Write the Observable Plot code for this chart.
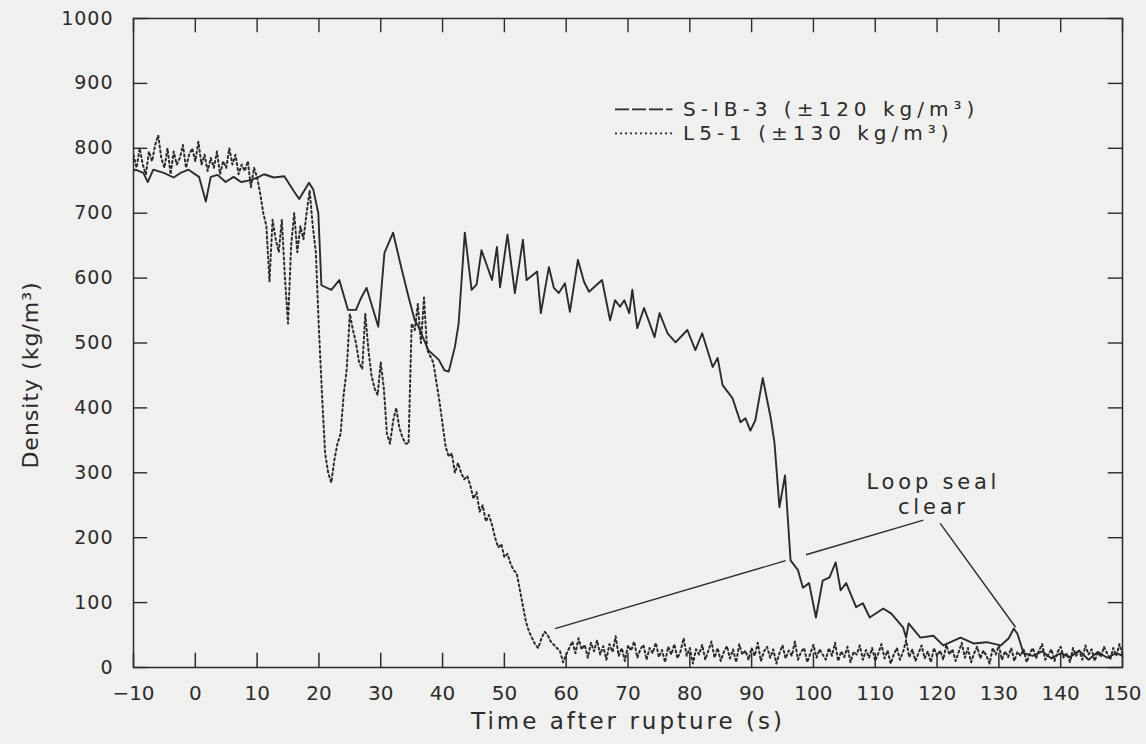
<!DOCTYPE html>
<html>
<head>
<meta charset="utf-8">
<script src="https://cdn.jsdelivr.net/npm/d3@7"></script>
<script src="https://cdn.jsdelivr.net/npm/@observablehq/plot@0.6"></script>
<style>
  html, body { margin: 0; padding: 0; background: #f0f0ee; }
  #chart { width: 1146px; height: 744px; }
</style>
</head>
<body>
<div id="chart"></div>
<script>
// ---------------- data ----------------
const xTickValues = [-10, 0, 10, 20, 30, 40, 50, 60, 70, 80, 90, 100, 110, 120, 130, 140, 150];
const yTickValues = [0, 100, 200, 300, 400, 500, 600, 700, 800, 900, 1000];

const xLabel = "Time after rupture (s)";
const yLabel = "Density (kg/m³)";
const seriesNames = ["S-IB-3 (±120 kg/m³)", "L5-1 (±130 kg/m³)"];
const annotationText = ["Loop seal", "clear"];

// S-IB-3: [time (s), density (kg/m3)]
const sib3 = [
  [-10, 765], [-9.7, 767], [-8.4, 762], [-7.7, 748], [-6.8, 767], [-5.1, 762], [-3.5, 755], [-2.4, 762],
  [-1.1, 767], [0.6, 756], [1.7, 718], [2.5, 756], [3.6, 759], [4.9, 748], [6.2, 756], [7.4, 748],
  [9, 751], [10.3, 756], [11.1, 760], [12.7, 755], [14.4, 757], [16, 733], [16.8, 722], [18.4, 747],
  [19.1, 736], [19.9, 700], [20.4, 589], [22, 582], [23.3, 597], [24.7, 551], [26, 551], [26.8, 569],
  [27.7, 585], [29.6, 525], [30.6, 639], [32, 670], [33.3, 617], [34.5, 571], [35.5, 535], [36.1, 525],
  [37.7, 489], [39.4, 474], [40.3, 458], [41, 456], [42, 494], [42.6, 530], [43.6, 670], [44.7, 582],
  [45.5, 590], [46.3, 643], [48, 597], [48.8, 648], [49.3, 586], [50.5, 667], [51.7, 577], [53, 659],
  [53.6, 597], [55.3, 610], [55.9, 546], [57.2, 617], [58, 585], [58.8, 577], [59.8, 592], [60.6, 548],
  [61.9, 628], [62.9, 594], [63.7, 579], [65.8, 597], [67.1, 535], [67.9, 566], [68.7, 556], [69.4, 566],
  [70.2, 546], [70.7, 582], [71.5, 523], [72.6, 554], [74.3, 509], [75.1, 546], [76.4, 515], [77.7, 501],
  [79.6, 520], [80.9, 489], [82, 515], [83.7, 463], [84.5, 477], [85.3, 435], [86.9, 415], [88.2, 378],
  [89, 384], [89.8, 365], [90.6, 381], [91.8, 446], [93.1, 384], [93.7, 346], [94.5, 247], [95.4, 296],
  [96.3, 165], [97.5, 150], [98.3, 123], [99.3, 130], [100.4, 77], [101.5, 134], [102.6, 139], [103.6, 162],
  [104.4, 119], [105.3, 130], [106.9, 93], [108, 99], [109.1, 77], [111.3, 91], [112.6, 83], [114.5, 62],
  [115, 46], [115.4, 68], [117.3, 46], [119.4, 49], [121, 34], [123.8, 46], [125.9, 37], [128, 39],
  [130.3, 34], [131.6, 45], [132.4, 60], [133, 52], [134, 22], [135.5, 18], [137, 25], [138.5, 14],
  [140, 22], [141.5, 16], [143, 26], [144.5, 12], [146, 24], [147.5, 15], [149, 22], [150, 18]
];

// L5-1: sampled every 0.5 s from -10 s (each row = 5 s)
const l5Start = -10;
const l5Step = 0.5;
const l5Density = [
  790, 770, 800, 775, 760, 795, 780, 805, 820, 785,   // -10
  770, 800, 760, 795, 775, 785, 805, 770, 790, 800,   // -5
  780, 810, 775, 790, 765, 785, 770, 795, 760, 780,   // 0
  770, 800, 775, 790, 760, 775, 765, 780, 740, 770,   // 5
  755, 730, 700, 680, 595, 690, 660, 640, 690, 600,   // 10
  530, 650, 700, 640, 680, 660, 700, 735, 680, 640,   // 15
  520, 420, 330, 300, 285, 320, 345, 360, 420, 460,   // 20
  545, 520, 500, 470, 460, 545, 490, 450, 430, 420,   // 25
  470, 430, 360, 345, 380, 400, 370, 355, 345, 345,   // 30
  530, 520, 560, 500, 570, 490, 480, 470, 440, 410,   // 35
  375, 340, 325, 330, 300, 315, 300, 290, 295, 280,   // 40
  260, 270, 240, 250, 225, 235, 220, 200, 185, 190,   // 45
  170, 175, 160, 150, 145, 120, 95, 70, 55, 45,       // 50
  35, 30, 45, 55, 50, 40, 35, 30, 25, 8,              // 55
  20, 30, 40, 22, 45, 28, 35, 15, 38, 25,             // 60
  42, 20, 33, 12, 36, 24, 48, 18, 30, 10,             // 65
  34, 26, 40, 15, 28, 35, 12, 30, 22, 38,             // 70
  16, 27, 8, 32, 20, 36, 14, 25, 45, 18,              // 75
  30, 6, 28, 20, 35, 12, 26, 40, 15, 30,              // 80
  10, 24, 33, 14, 28, 8, 36, 20, 26, 12,              // 85
  30, 18, 38, 10, 25, 32, 15, 28, 6, 22,              // 90
  34, 14, 26, 18, 40, 12, 24, 30, 8, 22,              // 95
  35, 15, 28, 20, 12, 30, 18, 38, 10, 25,             // 100
  16, 32, 8, 24, 20, 34, 12, 27, 15, 30,              // 105
  10, 22, 36, 14, 26, 6, 20, 30, 12, 24,              // 110
  42, 16, 28, 10, 22, 34, 14, 25, 8, 30,              // 115
  18, 26, 12, 35, 20, 28, 10, 24, 38, 15,             // 120
  30, 8, 22, 32, 14, 26, 18, 6, 30, 20,               // 125
  34, 12, 25, 16, 30, 10, 24, 18, 28, 8,              // 130
  22, 30, 14, 26, 36, 12, 20, 28, 10, 24,             // 135
  32, 15, 22, 8, 30, 18, 26, 12, 34, 20,              // 140
  28, 10, 24, 16, 32, 22, 12, 30, 18, 36,             // 145
  20                                                  // 150
];

// Annotation leader lines (time, density) for "Loop seal clear"
const leaderSegments = [
  [58.2, 60, 95.5, 164.6],
  [98.8, 173.8, 117.8, 227],
  [120.5, 222, 132.7, 62]
];
const annotationAnchor = [119.4, 285, 247]; // x, y of line 1, y of line 2

// ---------------- build ----------------
const ink = "#2b2b2b";
const font = "'DejaVu Sans', 'Liberation Sans', sans-serif";

const sibRows = sib3.map(([t, v]) => ({t, v}));
const l5Rows = l5Density.map((v, i) => ({t: l5Start + i * l5Step, v}));
const leaderRows = leaderSegments.map(([x1, y1, x2, y2]) => ({x1, y1, x2, y2}));

// legend placement in data space
const legendX1 = 67.9, legendX2 = 77.2, legendTextX = 78.9;
const legendY = [860, 823];

// inward tick lengths in data units (~14 px)
const tickX = 2.3, tickY = 22;

const chart = Plot.plot({
  width: 1146,
  height: 744,
  marginLeft: 133,
  marginRight: 24,
  marginTop: 18,
  marginBottom: 77,
  x: {domain: [-10, 150]},
  y: {domain: [0, 1000]},
  style: {background: "transparent", color: ink, fontFamily: font, overflow: "visible"},
  marks: [
    Plot.frame({stroke: ink, strokeWidth: 1.5}),
    // inward ticks on all four sides
    Plot.ruleX(xTickValues, {x: d => d, y1: 0, y2: tickY, stroke: ink, strokeWidth: 1.5}),
    Plot.ruleX(xTickValues, {x: d => d, y1: 1000 - tickY, y2: 1000, stroke: ink, strokeWidth: 1.4}),
    Plot.ruleY(yTickValues, {y: d => d, x1: -10, x2: -10 + tickX, stroke: ink, strokeWidth: 1.4}),
    Plot.ruleY(yTickValues, {y: d => d, x1: 150 - tickX, x2: 150, stroke: ink, strokeWidth: 1.4}),
    // tick labels
    Plot.axisX({anchor: "bottom", ticks: xTickValues, tickSize: 0, tickPadding: 18, label: null,
      fontSize: 20, tickFormat: d => d < 0 ? "\u2212" + Math.abs(d) : String(d)}),
    Plot.axisY({anchor: "left", ticks: yTickValues, tickSize: 0, tickPadding: 20, label: null,
      fontSize: 19, tickFormat: d => String(d)}),
    // axis titles
    Plot.text([xLabel], {frameAnchor: "bottom", textAnchor: "middle", dy: 61, fontSize: 23, fill: ink,
      text: d => d}),
    Plot.text([yLabel], {frameAnchor: "left", textAnchor: "middle", dx: -103, dy: 32, rotate: -90,
      fontSize: 22, fill: ink, text: d => d}),
    // series
    Plot.line(l5Rows, {x: "t", y: "v", stroke: ink, strokeWidth: 2, strokeDasharray: "2,3", clip: true}),
    Plot.line(sibRows, {x: "t", y: "v", stroke: ink, strokeWidth: 1.9, clip: true}),
    // annotation
    Plot.link(leaderRows, {x1: "x1", y1: "y1", x2: "x2", y2: "y2", stroke: ink, strokeWidth: 1.4}),
    Plot.text([annotationText[0]], {x: annotationAnchor[0], y: annotationAnchor[1], text: d => d, fontSize: 21,
      fill: ink}),
    Plot.text([annotationText[1]], {x: annotationAnchor[0], y: annotationAnchor[2], text: d => d, fontSize: 21,
      fill: ink}),
    // legend
    Plot.link([seriesNames[0]], {x1: legendX1, x2: legendX2, y1: legendY[0], y2: legendY[0], stroke: ink,
      strokeWidth: 1.6, strokeDasharray: "14,3"}),
    Plot.link([seriesNames[1]], {x1: legendX1, x2: legendX2, y1: legendY[1], y2: legendY[1], stroke: ink,
      strokeWidth: 1.8, strokeDasharray: "2,3"}),
    Plot.text(seriesNames, {x: legendTextX, y: (d, i) => legendY[i], text: d => d, textAnchor: "start",
      fontSize: 20, fill: ink})
  ]
});

// plotter-style letter spacing, applied by text content
const spacing = new Map([
  [xLabel, "3px"], [yLabel, "1px"],
  [annotationText[0], "3.8px"], [annotationText[1], "3.8px"],
  [seriesNames[0], "5px"], [seriesNames[1], "5px"]
]);
d3.select(chart).selectAll("text").each(function() {
  const s = spacing.get(this.textContent);
  if (s) this.setAttribute("letter-spacing", s);
});
d3.select(chart).selectAll('g[aria-label="y-axis tick label"] text').attr("letter-spacing", "1px");

document.getElementById("chart").appendChild(chart);
</script>
</body>
</html>
